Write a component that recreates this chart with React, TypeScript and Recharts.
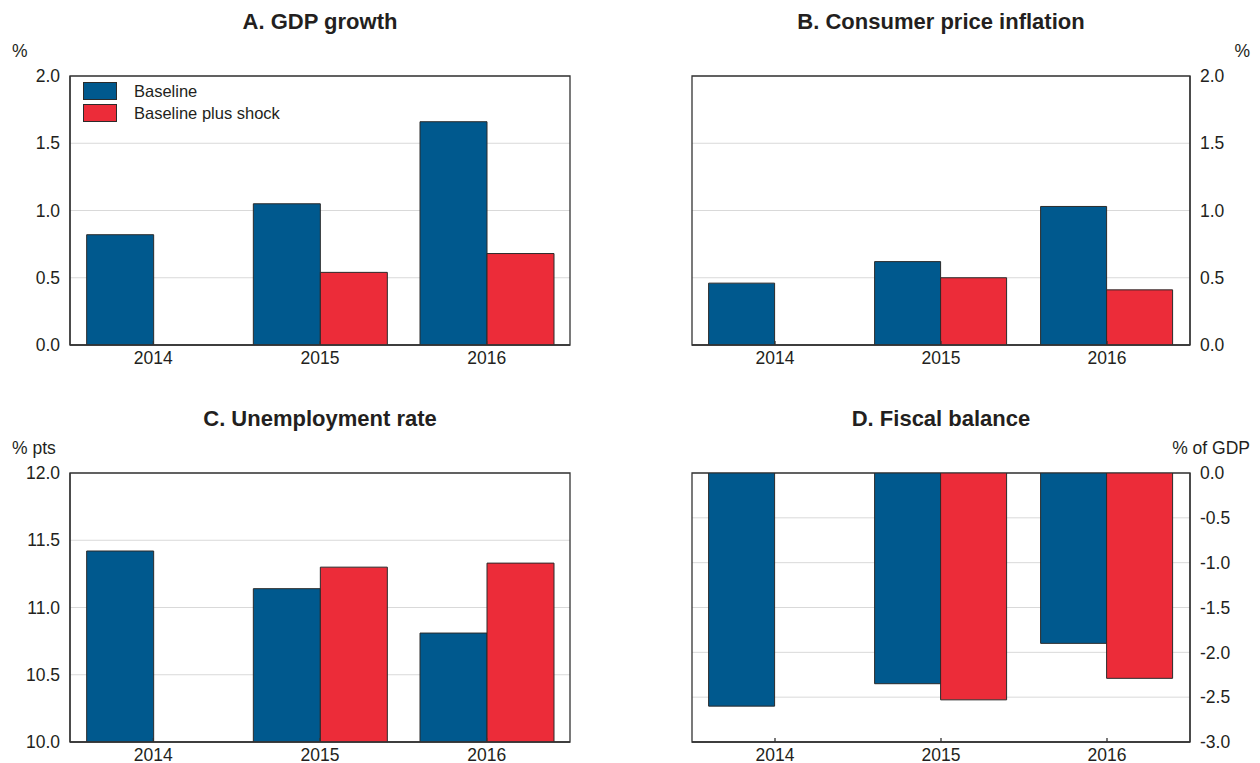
import React from "react";
import { BarChart, Bar, XAxis, YAxis, CartesianGrid, Legend, ReferenceArea } from "recharts";

const years = ["2014", "2015", "2016"];

const gdpBaseline = [0.82, 1.05, 1.66];
const gdpShock = [null, 0.54, 0.68];
const cpiBaseline = [0.46, 0.62, 1.03];
const cpiShock = [null, 0.5, 0.41];
const unempBaseline = [11.42, 11.14, 10.81];
const unempShock = [null, 11.3, 11.33];
const fiscalBaseline = [-2.6, -2.35, -1.9];
const fiscalShock = [null, -2.53, -2.29];

const pctTicks = [0, 0.5, 1, 1.5, 2];
const unempTicks = [10, 10.5, 11, 11.5, 12];
const fiscalTicks = [-3, -2.5, -2, -1.5, -1, -0.5, 0];

const BLUE = "#00598e";
const RED = "#ec2c39";
const INK = "#231f20";
const FRAME = { stroke: "#333333", strokeWidth: 1.3 };
const FONT = '"Liberation Sans", Arial, Helvetica, sans-serif';

const PANEL_W = 630;
const PANEL_H = 380;

type Row = { year: string; baseline: number | null; shock: number | null };

const toRows = (base: (number | null)[], shock: (number | null)[]): Row[] =>
  years.map((year, i) => ({ year, baseline: base[i], shock: shock[i] }));

const renderLegend = (props: any) => (
  <div style={{ fontFamily: FONT, fontSize: 16.5, color: INK }}>
    {(props.payload || []).map((entry: any) => (
      <div key={entry.value} style={{ display: "flex", alignItems: "center", height: 22 }}>
        <span
          style={{
            display: "inline-block",
            width: 34,
            height: 18,
            boxSizing: "border-box",
            background: entry.color,
            border: "1px solid #2b2b2b",
          }}
        />
        <span style={{ marginLeft: 17 }}>{entry.value}</span>
      </div>
    ))}
  </div>
);

interface PanelProps {
  title: string;
  unit: string;
  rows: Row[];
  ticks: number[];
  side: "left" | "right";
  x: number;
  y: number;
  legend?: boolean;
}

function Panel({ title, unit, rows, ticks, side, x, y, legend }: PanelProps) {
  const domain: [number, number] = [ticks[0], ticks[ticks.length - 1]];
  const isLeft = side === "left";
  const plotLeft = isLeft ? 70 : 62;
  const plotRight = isLeft ? 570 : 560;
  const tickStyle = { fill: INK, fontSize: 17.5, fontFamily: FONT };

  return (
    <div style={{ position: "absolute", left: x, top: y, width: PANEL_W, height: PANEL_H }}>
      <div
        style={{
          position: "absolute",
          top: 9,
          left: (plotLeft + plotRight) / 2 - 250,
          width: 500,
          textAlign: "center",
          fontWeight: "bold",
          fontSize: 22,
          color: INK,
          lineHeight: "26px",
        }}
      >
        {title}
      </div>
      <div
        style={{
          position: "absolute",
          top: 40,
          lineHeight: "22px",
          fontSize: 17.5,
          color: INK,
          ...(isLeft ? { left: 12 } : { right: 10 }),
        }}
      >
        {unit}
      </div>
      <BarChart
        width={PANEL_W}
        height={PANEL_H}
        data={rows}
        margin={{ top: 76, right: isLeft ? 60 : 0, bottom: 5, left: isLeft ? 0 : 62 }}
        barCategoryGap="10%"
        barGap={0}
        style={{ fontFamily: FONT }}
      >
        <CartesianGrid vertical={false} stroke="#d9d9d9" yAxisId="main" />
        <XAxis
          dataKey="year"
          interval={0}
          height={30}
          axisLine={FRAME}
          tickLine={FRAME}
          tickSize={-4}
          tickMargin={11}
          tick={tickStyle}
        />
        <YAxis
          yAxisId="main"
          orientation={side}
          domain={domain}
          ticks={ticks}
          interval={0}
          allowDataOverflow
          width={70}
          axisLine={FRAME}
          tickLine={false}
          tickSize={0}
          tickMargin={10}
          tick={tickStyle}
          tickFormatter={(v: number) => v.toFixed(1)}
        />
        {legend && (
          <Legend
            layout="vertical"
            align="center"
            verticalAlign="middle"
            content={renderLegend}
            wrapperStyle={{ top: 80, left: 83, width: "auto" }}
          />
        )}
        <Bar
          yAxisId="main"
          dataKey="baseline"
          name="Baseline"
          fill={BLUE}
          stroke="#2b2b2b"
          strokeWidth={1}
          isAnimationActive={false}
        />
        <Bar
          yAxisId="main"
          dataKey="shock"
          name="Baseline plus shock"
          fill={RED}
          stroke="#2b2b2b"
          strokeWidth={1}
          isAnimationActive={false}
        />
        {/* box around the plot area */}
        <ReferenceArea
          yAxisId="main"
          y1={domain[0]}
          y2={domain[1]}
          fill="none"
          fillOpacity={0}
          stroke={FRAME.stroke}
          strokeWidth={FRAME.strokeWidth}
          ifOverflow="visible"
        />
      </BarChart>
    </div>
  );
}

export default function App() {
  return (
    <div
      style={{
        position: "absolute",
        left: 0,
        top: 0,
        width: 1260,
        height: 763,
        background: "#ffffff",
        fontFamily: FONT,
        overflow: "hidden",
      }}
    >
      <Panel
        title="A. GDP growth"
        unit="%"
        rows={toRows(gdpBaseline, gdpShock)}
        ticks={pctTicks}
        side="left"
        x={0}
        y={0}
        legend
      />
      <Panel
        title="B. Consumer price inflation"
        unit="%"
        rows={toRows(cpiBaseline, cpiShock)}
        ticks={pctTicks}
        side="right"
        x={630}
        y={0}
      />
      <Panel
        title="C. Unemployment rate"
        unit="% pts"
        rows={toRows(unempBaseline, unempShock)}
        ticks={unempTicks}
        side="left"
        x={0}
        y={397}
      />
      <Panel
        title="D. Fiscal balance"
        unit="% of GDP"
        rows={toRows(fiscalBaseline, fiscalShock)}
        ticks={fiscalTicks}
        side="right"
        x={630}
        y={397}
      />
    </div>
  );
}
